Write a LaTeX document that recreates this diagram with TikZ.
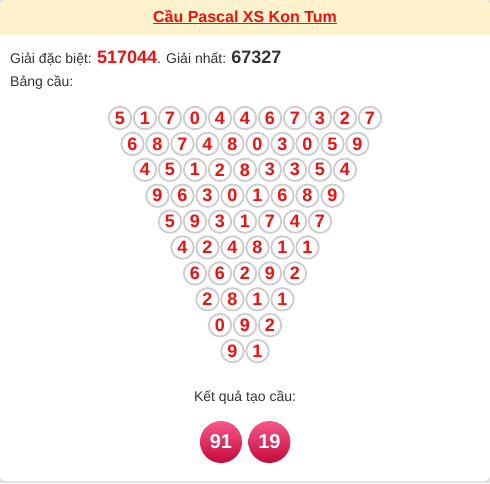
\documentclass[tikz,border=0pt]{standalone}
\usepackage{fontspec}
\setmainfont{Liberation Sans}
\usepackage{tikz}
\usetikzlibrary{positioning}

\definecolor{kqred}{HTML}{EE1111}
\definecolor{kqtext}{HTML}{333333}
\definecolor{kqhead}{HTML}{FFF2CC}
\definecolor{kqring}{HTML}{CCCCCC}
\definecolor{balltop}{HTML}{F5588A}
\definecolor{ballbot}{HTML}{C5093A}

\begin{document}
\begin{tikzpicture}[x = 1pt, y = -1pt,
    every node/.style = { inner sep = 0pt, text = kqtext, font = \fontsize{14}{16}\selectfont },
    digit/.style = { draw = kqring, line width = 1.8pt, shape = circle, minimum size = 22.5pt,
                     text = kqred, font = \fontsize{18}{18}\selectfont\bfseries },
    ball/.style = { shape = circle, minimum size = 42pt, top color = balltop, bottom color = ballbot,
                    text = white, font = \fontsize{20}{20}\selectfont\bfseries }]
      % card and header
      \fill [kqring!60] (0,0) rectangle (490,483);
      \fill [white, rounded corners = 6pt] (0,0) rectangle (490,481);
      \fill [kqhead, rounded corners = 6pt] (0,0) rectangle (490,20);
      \fill [kqhead] (0,12) rectangle (490,35);
      \node (title) at (245,17) { \color{kqred}\fontsize{16}{16}\selectfont\bfseries\underline{Cầu Pascal XS Kon Tum} };

      \node [anchor = west] (giai) at (10,58) { Giải đặc biệt: {\color{kqred}\fontsize{18}{18}\selectfont\bfseries 517044}. Giải nhất: {\fontsize{18}{18}\selectfont\bfseries 67327} };
      \node [anchor = west] (bang) at (10,83) { Bảng cầu: };

      % pascal rows
      \foreach \r/\digits in {0/{5,1,7,0,4,4,6,7,3,2,7}, 1/{6,8,7,4,8,0,3,0,5,9}, 2/{4,5,1,2,8,3,3,5,4},
                              3/{9,6,3,0,1,6,8,9}, 4/{5,9,3,1,7,4,7}, 5/{4,2,4,8,1,1}, 6/{6,6,2,9,2},
                              7/{2,8,1,1}, 8/{0,9,2}, 9/{9,1}}
        \foreach \d [count = \c] in \digits
          \node [digit] (d-\r-\c) at ({245 + (\c - (12 - \r)/2)*25}, {118 + \r*25.9}) { \d };

      \node (kq) at (245,398) { Kết quả tạo cầu: };
      \node [ball] (ball-1) at (221,442) { 91 };
      \node [ball, right = 6pt of ball-1] (ball-2) { 19 };

    \end{tikzpicture}
\end{document}
